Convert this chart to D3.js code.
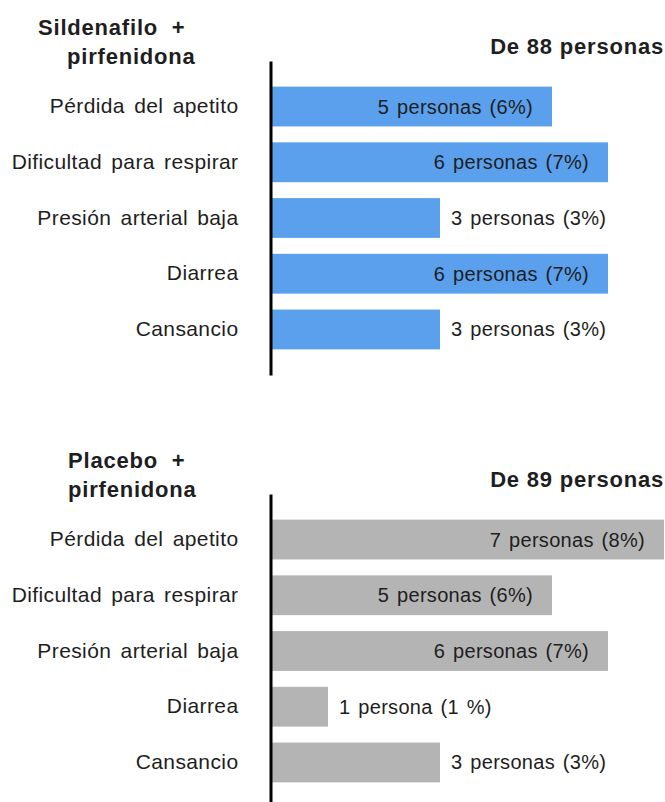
<!DOCTYPE html>
<html>
<head>
<meta charset="utf-8">
<style>
  body { margin: 0; background: #fff; }
  svg text { font-family: "Liberation Sans", Arial, sans-serif; fill: #1e1e1e; }
</style>
</head>
<body>
<div id="chart"></div>
<script src="https://d3js.org/d3.v7.min.js"></script>
<script>
  // effects reported in each group
  const categories = ["Pérdida del apetito", "Dificultad para respirar", "Presión arterial baja", "Diarrea", "Cansancio"];

  const sildenafiloTitle = ["Sildenafilo  +", "pirfenidona"];
  const sildenafiloTotal = 88;
  const sildenafiloCounts = [5, 6, 3, 6, 3];
  const sildenafiloPct = ["6%", "7%", "3%", "7%", "3%"];

  const placeboTitle = ["Placebo  +", "pirfenidona"];
  const placeboTotal = 89;
  const placeboCounts = [7, 5, 6, 1, 3];
  const placeboPct = ["8%", "6%", "7%", "1 %", "3%"];

  const width = 665, height = 802;

  const svg = d3.select("#chart").append("svg")
    .attr("width", width)
    .attr("height", height);

  const x = d3.scaleLinear().domain([0, 7]).range([272, 664]);

  function drawPanel(top, title, titleX, total, counts, pct, color) {
    const g = svg.append("g").attr("transform", `translate(0,${top})`);

    const y = d3.scaleBand()
      .domain(categories)
      .range([61, 375])
      .paddingInner(0.2857)
      .paddingOuter(0.46);

    const rows = categories.map((c, i) => ({ cat: c, n: counts[i], pct: pct[i] }));

    g.selectAll("rect")
      .data(rows)
      .join("rect")
      .attr("x", x(0))
      .attr("y", d => y(d.cat))
      .attr("width", d => x(d.n) - x(0))
      .attr("height", y.bandwidth())
      .attr("fill", color);

    const axis = g.append("g")
      .attr("transform", "translate(270.5,0)")
      .call(d3.axisLeft(y).tickSize(0).tickPadding(32));
    axis.select(".domain").attr("stroke", "#000").attr("stroke-width", 3);
    axis.selectAll(".tick text")
      .attr("font-size", 21)
      .attr("letter-spacing", 0.4)
      .attr("word-spacing", 3)
      .attr("fill", "#1e1e1e")
      .attr("font-family", "'Liberation Sans', Arial, sans-serif");

    g.selectAll("text.val")
      .data(rows)
      .join("text")
      .attr("class", "val")
      .attr("x", d => d.n >= 5 ? x(d.n) - 19 : x(d.n) + 11)
      .attr("y", d => y(d.cat) + y.bandwidth() / 2)
      .attr("dy", "0.35em")
      .attr("text-anchor", d => d.n >= 5 ? "end" : "start")
      .attr("font-size", 20)
      .attr("letter-spacing", 0.3)
      .attr("word-spacing", 2)
      .text(d => `${d.n} ${d.n === 1 ? "persona" : "personas"} (${d.pct})`);

    g.append("text")
      .attr("x", titleX[0]).attr("y", 35)
      .attr("font-size", 22).attr("font-weight", "bold")
      .attr("letter-spacing", 0.8)
      .style("white-space", "pre")
      .attr("fill", "#111")
      .text(title[0]);
    g.append("text")
      .attr("x", titleX[1]).attr("y", 64)
      .attr("font-size", 22).attr("font-weight", "bold")
      .attr("letter-spacing", 0.8)
      .attr("fill", "#111")
      .text(title[1]);

    g.append("text")
      .attr("x", 664).attr("y", 54)
      .attr("text-anchor", "end")
      .attr("font-size", 22).attr("font-weight", "bold")
      .attr("letter-spacing", 0.8)
      .attr("fill", "#111")
      .text(`De ${total} personas`);
  }

  drawPanel(0, sildenafiloTitle, [38, 67], sildenafiloTotal, sildenafiloCounts, sildenafiloPct, "#5aa0ec");
  drawPanel(433, placeboTitle, [68, 68], placeboTotal, placeboCounts, placeboPct, "#b4b4b4");
</script>
</body>
</html>
